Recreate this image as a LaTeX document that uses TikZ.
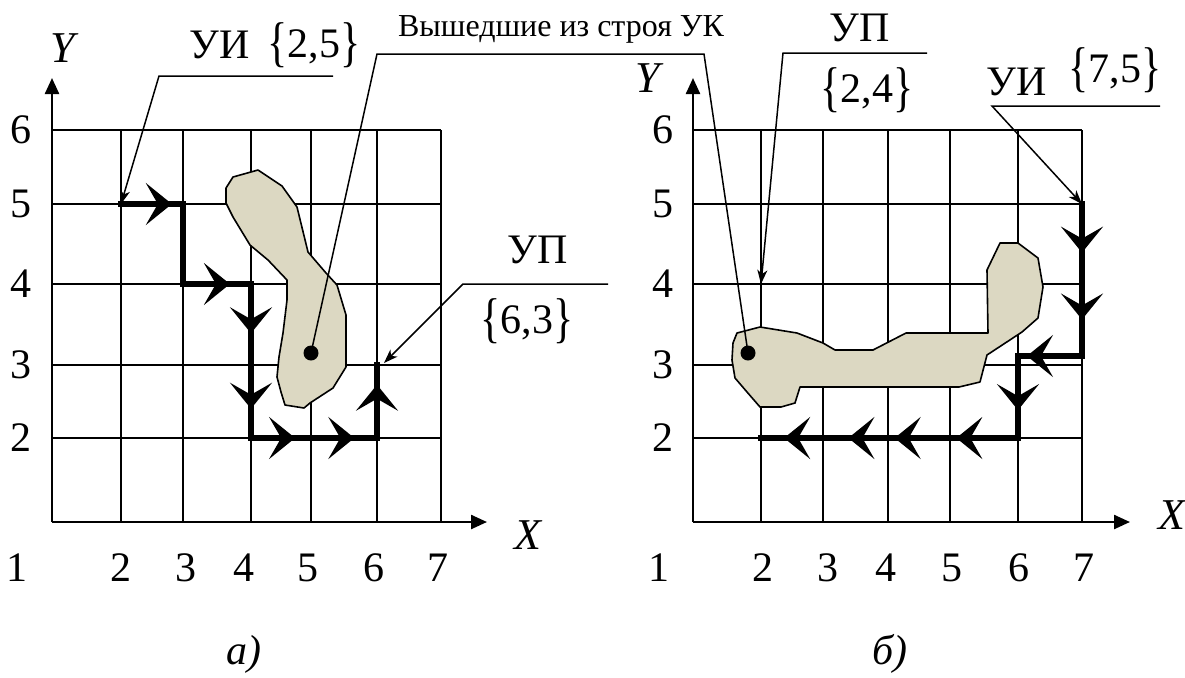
\documentclass[tikz,border=0pt]{standalone}
\usepackage{fontspec}
\usepackage{graphicx}
\setmainfont{Liberation Serif}
\usetikzlibrary{arrows.meta,decorations.markings}

\definecolor{blobfill}{RGB}{220,216,194}
\newcommand{\pointset}[1]{\raisebox{-1.5pt}{\scalebox{1}[1.3]{\{}}#1\raisebox{-1.5pt}{\scalebox{1}[1.3]{\}}}}

\tikzset{
  gridline/.style={line width=.8pt},
  axisline/.style={line width=1.2pt,-{Triangle[length=8pt,width=7pt]}},
  route/.style={line width=3.2pt,line cap=rect},
  tipat/.style={postaction={decorate,decoration={markings,
      mark=at position #1 with {\arrow{Stealth[length=13pt,width=21pt,inset=6pt]}}}}},
  leader/.style={line width=.75pt},
  pointer/.style={leader,-{Stealth[length=7pt,width=5pt,inset=2pt]}},
  dotnode/.style={circle,fill,inner sep=0pt,minimum size=7.5pt},
  lbl/.style={font=\fontsize{21pt}{24pt}\selectfont},
  smalllbl/.style={font=\fontsize{16pt}{18pt}\selectfont},
  axlbl/.style={font=\fontsize{22pt}{25pt}\selectfont\itshape},
  blob/.style={fill=blobfill,draw,line width=.8pt,line join=round},
}

\begin{document}
\begin{tikzpicture}[x=0.5pt,y=-0.5pt]
\useasboundingbox (0,0) rectangle (1185,677);

% grid points of both panels
\foreach \c/\xa/\xb in {1/52/693,2/121/761,3/183/823,4/251/888,5/311/950,6/377/1018,7/441/1082}
  \foreach \r/\y in {1/522,2/438,3/365,4/284,5/204,6/130} {
    \coordinate (a-\c-\r) at (\xa,\y);
    \coordinate (b-\c-\r) at (\xb,\y);
  }

% grids
\foreach \p in {a,b} {
  \foreach \c in {2,...,7}
    \draw[gridline] (\p-\c-1) -- (\p-\c-6);
  \foreach \r in {2,...,6}
    \draw[gridline] (\p-1-\r) -- (\p-7-\r);
}

% axes
\coordinate (a-xend) at (487,522);
\coordinate (a-yend) at (52,78);
\coordinate (b-xend) at (1130,522);
\coordinate (b-yend) at (693,78);
\draw[axisline] (a-1-1) -- (a-xend);
\draw[axisline] (a-1-1) -- (a-yend);
\draw[axisline] (b-1-1) -- (b-xend);
\draw[axisline] (b-1-1) -- (b-yend);

% failed areas
\draw[blob] (226,188) -- (233,177) -- (258,170) -- (282,186) -- (297,207)
  -- (308,252) -- (326,273) -- (337,285) -- (346,315) -- (346,367)
  -- (333,388) -- (310,403) -- (304,408) -- (285,405) -- (281,392)
  -- (277,377) -- (279,357) -- (283,333) -- (287,300) -- (287,280)
  -- (268,260) -- (250,245) -- (233,217) -- (226,203) -- cycle;
\draw[blob] (733,343) -- (737,333) -- (760,327) -- (797,333) -- (823,343)
  -- (835,350) -- (873,350) -- (906,333) -- (988,333) -- (987,270)
  -- (1000,243) -- (1018,243) -- (1038,258) -- (1043,287) -- (1038,318)
  -- (1022,332) -- (987,355) -- (980,382) -- (959,387) -- (800,387)
  -- (795,403) -- (781,407) -- (760,407) -- (747,392) -- (735,378)
  -- (732,360) -- cycle;

% route a
\draw[route,tipat=0.82] (a-2-5) -- (a-3-5);
\draw[route] (a-3-5) -- (a-3-4);
\draw[route,tipat=0.69] (a-3-4) -- (a-4-4);
\draw[route,tipat=0.32,tipat=0.81] (a-4-4) -- (a-4-2);
\draw[route,tipat=0.35,tipat=0.82] (a-4-2) -- (a-6-2);
\draw[route,tipat=0.73] (a-6-2) -- (a-6-3);

% route b
\coordinate (b-turn1) at (1082,356);
\coordinate (b-turn2) at (1018,356);
\draw[route,tipat=0.32,tipat=0.76] (b-7-5) -- (b-turn1);
\draw[route,tipat=0.86] (b-turn1) -- (b-turn2);
\draw[route,tipat=0.66] (b-turn2) -- (b-6-2);
\draw[route,tipat=0.24,tipat=0.48,tipat=0.66,tipat=0.91] (b-6-2) -- (b-2-2);

% leaders
\coordinate (a-ui-r) at (333,76);
\coordinate (a-ui-l) at (159,76);
\coordinate (a-up-r) at (608,284);
\coordinate (a-up-l) at (463,284);
\coordinate (a-end) at (384,363);
\coordinate (b-up-r) at (927,53);
\coordinate (b-up-l) at (783,53);
\coordinate (b-ui-r) at (1160,106);
\coordinate (b-ui-l) at (992,106);
\coordinate (fail-l) at (377,54);
\coordinate (fail-r) at (704,54);
\draw[pointer] (a-ui-r) -- (a-ui-l) -- (a-2-5);
\draw[pointer] (a-up-r) -- (a-up-l) -- (a-end);
\draw[pointer] (b-up-r) -- (b-up-l) -- (b-2-4);
\draw[pointer] (b-ui-r) -- (b-ui-l) -- (b-7-5);
\node[dotnode] (a-dot) at (311,353) {};
\node[dotnode] (b-dot) at (748,353) {};
\draw[leader] (a-dot.center) -- (fail-l) -- (fail-r) -- (b-dot.center);

% labels
\node[smalllbl] (fail) at (561,29) {Вышедшие из строя УК};
\node[lbl] (a-ui) at (220,45) {УИ};
\node[lbl] (a-ui-v) at (314,45) {\pointset{2,5}};
\node[lbl] (a-up) at (538,250) {УП};
\node[lbl] (a-up-v) at (527,321) {\pointset{6,3}};
\node[lbl] (b-up) at (860,28) {УП};
\node[lbl] (b-up-v) at (867,90) {\pointset{2,4}};
\node[lbl] (b-ui) at (1017,82) {УИ};
\node[lbl] (b-ui-v) at (1115,70) {\pointset{7,5}};

\node[axlbl] (a-x) at (528,535) {X};
\node[axlbl] (a-y) at (63,48) {Y};
\node[axlbl] (b-x) at (1172,515) {X};
\node[axlbl] (b-y) at (648,78) {Y};

\foreach \n/\x in {1/17,2/121,3/186,4/244,5/308,6/374,7/438}
  \node[lbl] (a-xl-\n) at (\x,568) {\n};
\foreach \n/\x in {1/659,2/763,3/828,4/886,5/952,6/1019,7/1084}
  \node[lbl] (b-xl-\n) at (\x,568) {\n};
\foreach \n/\y in {2/438,3/365,4/284,5/204,6/130} {
  \node[lbl] (a-yl-\n) at (21,\y) {\n};
  \node[lbl] (b-yl-\n) at (663,\y) {\n};
}

\node[lbl,font=\fontsize{21pt}{24pt}\selectfont\itshape] (a-cap) at (244,654) {а)};
\node[lbl,font=\fontsize{21pt}{24pt}\selectfont\itshape] (b-cap) at (890,654) {б)};
\end{tikzpicture}
\end{document}
